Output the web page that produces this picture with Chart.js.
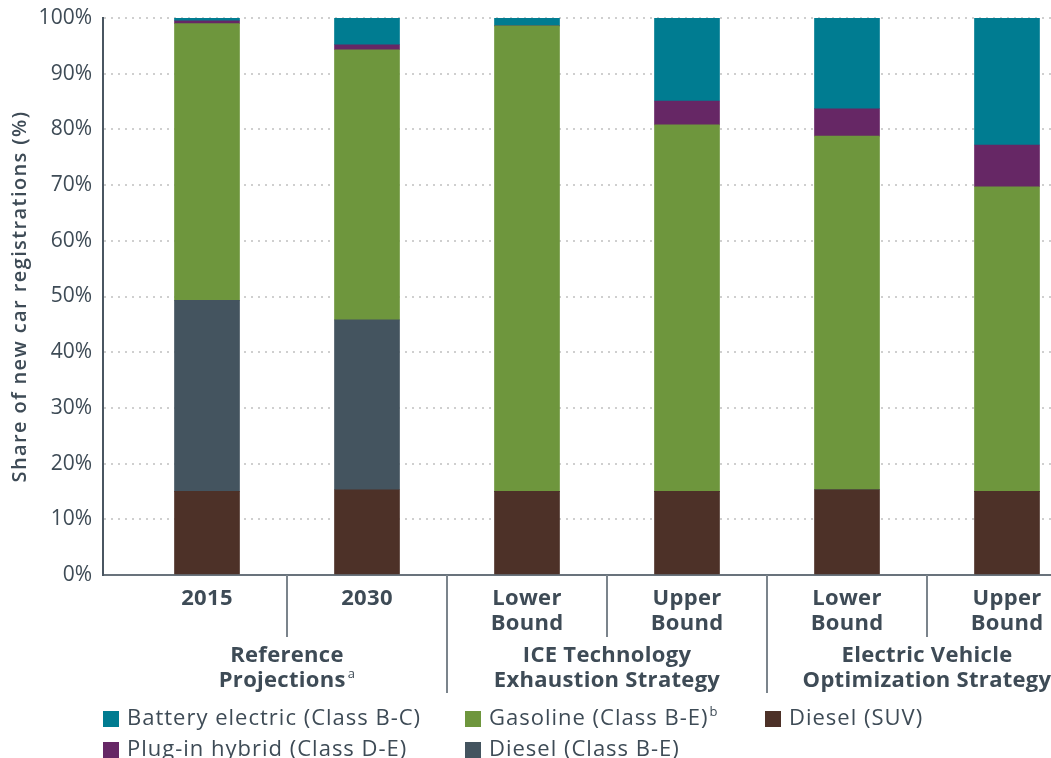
<!DOCTYPE html>
<html>
<head>
<meta charset="utf-8">
<script src="https://cdn.jsdelivr.net/npm/chart.js@4.4.1/dist/chart.umd.min.js"></script>
<style>
  html, body { margin: 0; padding: 0; background: #fff; overflow: hidden; }
  #wrap { width: 1051px; height: 758px; }
</style>
</head>
<body>
<div id="wrap"><canvas id="myChart" width="1051" height="758"></canvas></div>
<script>
/* данные графика */
const categories = [['2015'], ['2030'], ['Lower', 'Bound'], ['Upper', 'Bound'], ['Lower', 'Bound'], ['Upper', 'Bound']];
const groups = [
      { lines: ['Reference', 'Projections'], sup: 'a', from: 0, to: 1 },
      { lines: ['ICE Technology', 'Exhaustion Strategy'], sup: '', from: 2, to: 3 },
      { lines: ['Electric Vehicle', 'Optimization Strategy'], sup: '', from: 4, to: 5 }
];
const yTicks = [0, 10, 20, 30, 40, 50, 60, 70, 80, 90, 100];
const yTitle = 'Share of new car registrations (%)';

const dieselSuv       = [15.0, 15.3, 15.0, 15.0, 15.3, 15.0];
const dieselBE        = [34.3, 30.5, 0, 0, 0, 0];
const gasoline        = [49.7, 48.5, 83.6, 65.8, 63.5, 54.7];
const plugInHybrid    = [0.5, 0.9, 0, 4.3, 4.9, 7.5];
const batteryElectric = [0.5, 4.8, 1.4, 14.9, 16.3, 22.8];

const textColor = '#3e4b56';
const fontFamily = "'Open Sans', 'DejaVu Sans', sans-serif";

function toPoints(arr) {
      return arr.map((v, i) => ({ x: i, y: v }));
}

/* подписи категорий, групп и разделители под осью x, заголовок оси y */
const xLabelsPlugin = {
      id: 'xLabels',
      afterDraw(chart) {
            const ctx = chart.ctx;
            const x = chart.scales.x;
            const area = chart.chartArea;
            const bottom = area.bottom;
            ctx.save();

            // separators
            ctx.strokeStyle = '#7b848c';
            ctx.lineWidth = 2;
            for (let i = 0; i < categories.length - 1; i++) {
                  const px = Math.round(x.getPixelForValue(i + 0.5));
                  const isGroupEdge = groups.some(g => g.to === i);
                  ctx.beginPath();
                  ctx.moveTo(px, bottom);
                  ctx.lineTo(px, bottom + (isGroupEdge ? 118 : 62));
                  ctx.stroke();
            }

            ctx.fillStyle = textColor;
            ctx.textBaseline = 'middle';
            ctx.textAlign = 'center';
            ctx.letterSpacing = '0.3px';
            const bold = 'bold 22px ' + fontFamily;
            ctx.font = bold;
            categories.forEach((lines, i) => {
                  const px = x.getPixelForValue(i);
                  lines.forEach((t, j) => ctx.fillText(t, px, bottom + 24 + j * 25));
            });

            groups.forEach(g => {
                  const px = (x.getPixelForValue(g.from) + x.getPixelForValue(g.to)) / 2;
                  g.lines.forEach((t, j) => {
                        const y = bottom + 81 + j * 25;
                        if (j === g.lines.length - 1 && g.sup) {
                              ctx.font = bold;
                              const w = ctx.measureText(t).width;
                              ctx.font = '13px ' + fontFamily;
                              const ws = ctx.measureText(g.sup).width + 2;
                              const start = px - (w + ws) / 2;
                              ctx.textAlign = 'left';
                              ctx.font = bold;
                              ctx.fillText(t, start, y);
                              ctx.font = '13px ' + fontFamily;
                              ctx.fillText(g.sup, start + w + 2, y - 7);
                              ctx.textAlign = 'center';
                              ctx.font = bold;
                        } else {
                              ctx.fillText(t, px, y);
                        }
                  });
            });

            // y axis title
            ctx.translate(20, (area.top + area.bottom) / 2);
            ctx.rotate(-Math.PI / 2);
            ctx.letterSpacing = '1.4px';
            ctx.font = '600 20px ' + fontFamily;
            ctx.fillText(yTitle, 0, 0);
            ctx.restore();
      }
};

/* легенда внизу */
const legendPlugin = {
      id: 'customLegend',
      afterDraw(chart) {
            const ctx = chart.ctx;
            const slots = [
                  { label: 'Battery electric (Class B-C)', x: 103, y: 719 },
                  { label: 'Gasoline (Class B-E)', sup: 'b', x: 465, y: 719 },
                  { label: 'Diesel (SUV)', x: 765, y: 719 },
                  { label: 'Plug-in hybrid (Class D-E)', x: 103, y: 750 },
                  { label: 'Diesel (Class B-E)', x: 465, y: 750 }
            ];
            ctx.save();
            ctx.textBaseline = 'middle';
            ctx.textAlign = 'left';
            slots.forEach(s => {
                  const ds = chart.data.datasets.find(d => d.label === s.label);
                  ctx.fillStyle = ds.backgroundColor;
                  ctx.fillRect(s.x, s.y - 8, 16, 16);
                  ctx.fillStyle = textColor;
                  ctx.letterSpacing = '1px';
                  ctx.font = '22px ' + fontFamily;
                  ctx.fillText(s.label, s.x + 24, s.y);
                  if (s.sup) {
                        const w = ctx.measureText(s.label).width;
                        ctx.letterSpacing = '0px';
                        ctx.font = '13px ' + fontFamily;
                        ctx.fillText(s.sup, s.x + 25 + w, s.y - 7);
                  }
            });
            ctx.restore();
      }
};

const canvaNode = document.getElementById('myChart');

const chart = new Chart(canvaNode, {
      type: 'bar',
      data: {
            datasets: [
                  { label: 'Diesel (SUV)', data: toPoints(dieselSuv), backgroundColor: '#4d3128' },
                  { label: 'Diesel (Class B-E)', data: toPoints(dieselBE), backgroundColor: '#44545f' },
                  { label: 'Gasoline (Class B-E)', data: toPoints(gasoline), backgroundColor: '#6e963d' },
                  { label: 'Plug-in hybrid (Class D-E)', data: toPoints(plugInHybrid), backgroundColor: '#662765' },
                  { label: 'Battery electric (Class B-C)', data: toPoints(batteryElectric), backgroundColor: '#007c91' }
            ]
      },
      options: {
            responsive: false,
            animation: false,
            barThickness: 65,
            layout: { padding: { top: 18, right: 0, bottom: 0, left: 0 } },
            plugins: {
                  legend: { display: false },
                  tooltip: { enabled: false }
            },
            scales: {
                  x: {
                        type: 'linear',
                        stacked: true,
                        offset: false,
                        min: -0.65,
                        max: 5.275,
                        grid: { display: false },
                        ticks: { display: false },
                        border: { color: '#69737c', width: 2 },
                        afterFit(scale) { scale.height = 183; }
                  },
                  y: {
                        stacked: true,
                        min: 0,
                        max: 100,
                        afterBuildTicks(scale) { scale.ticks = yTicks.map(v => ({ value: v })); },
                        ticks: {
                              padding: 11,
                              color: textColor,
                              font: { family: fontFamily, size: 21 },
                              callback: v => v + '%'
                        },
                        grid: {
                              drawTicks: false,
                              color: ctx => ctx.tick && ctx.tick.value === 0 ? 'rgba(0,0,0,0)' : '#cfcfcf',
                              lineWidth: 2
                        },
                        border: { color: '#4a5661', width: 2, dash: [2, 5], display: true },
                        afterFit(scale) {
                              scale.width = 103;
                              scale.paddingTop = 0;
                              scale.paddingBottom = 0;
                        }
                  }
            }
      },
      plugins: [xLabelsPlugin, legendPlugin]
});
</script>
</body>
</html>
